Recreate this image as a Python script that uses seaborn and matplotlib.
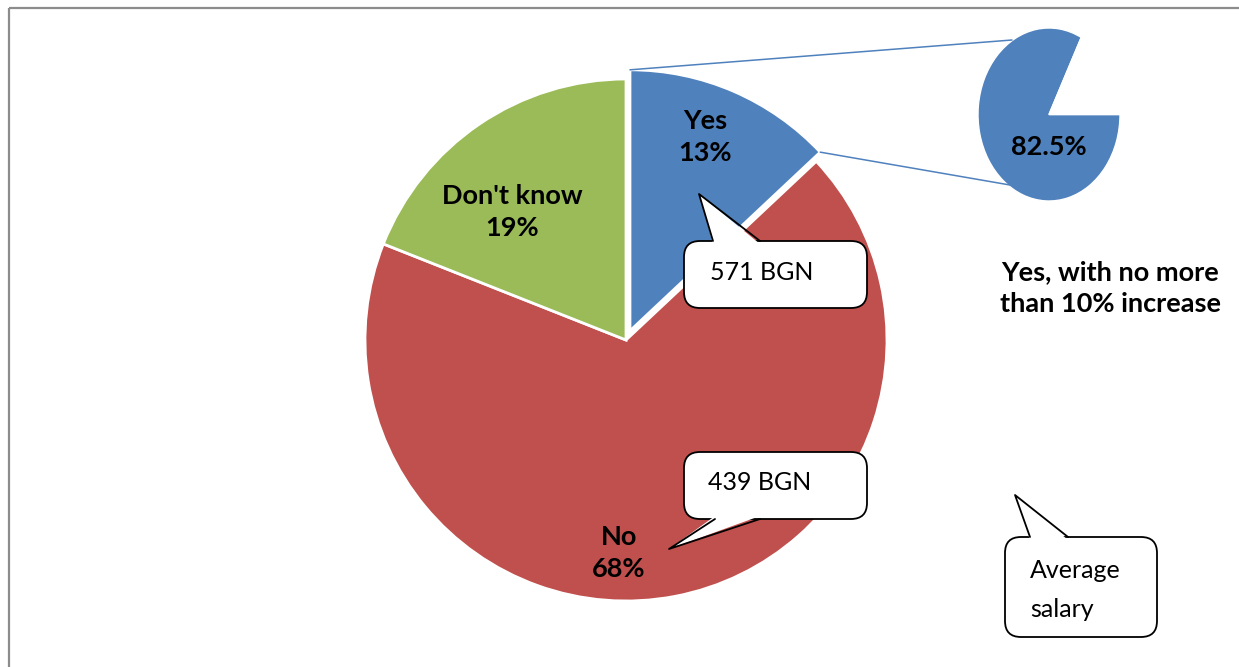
import seaborn as sns
import matplotlib
matplotlib.use("Agg")
import matplotlib.pyplot as plt
from matplotlib.patches import FancyBboxPatch, Polygon, Rectangle
import numpy as np

sns.set_theme(style="white")
plt.rcParams['font.family'] = ['Lato', 'DejaVu Sans']

# data
labels = ["Yes", "No", "Don't know"]
shares = [13, 68, 19]
colors = ["#4F81BD", "#C0504D", "#9BBB59"]
sub_share = 82.5          # "Yes" with no more than 10% increase
sub_label = "Yes, with no more\nthan 10% increase"
salary_yes = "571 BGN"
salary_no = "439 BGN"

W, H = 1239, 667
fig = plt.figure(figsize=(W / 100, H / 100), dpi=100)
ax = fig.add_axes([0, 0, 1, 1])
ax.set_zorder(2)

# main pie (y axis points down, so counterclock=True looks clockwise)
wedges, _ = ax.pie(shares, colors=colors, startangle=-90, counterclock=True,
                   radius=261, center=(626, 340), explode=[10, 0, 0],
                   wedgeprops=dict(edgecolor="white", linewidth=2), frame=True)
ax.set_xlim(0, W)
ax.set_ylim(H, 0)
ax.set_aspect("auto")
ax.axis("off")

# small pie
ax2 = fig.add_axes([978 / W, 1 - 201 / H, 142 / W, 173 / H])
ax2.set_zorder(1)
gap = 100 - sub_share
ax2.pie([sub_share, gap], colors=[colors[0], "none"], startangle=360 * gap / 100,
        counterclock=True, radius=1)
ax2.set_xlim(-1, 1)
ax2.set_ylim(-1, 1)
ax2.set_aspect("auto")
ax2.axis("off")

# connector lines from the Yes wedge to the small pie
w = wedges[0]
cx, cy = w.center
p1 = (cx + w.r * np.cos(np.radians(w.theta1)), cy + w.r * np.sin(np.radians(w.theta1)))
p2 = (cx + w.r * np.cos(np.radians(w.theta2)), cy + w.r * np.sin(np.radians(w.theta2)))
ax.plot([p1[0], 1012], [p1[1], 40], color=colors[0], lw=1.1)
ax.plot([p2[0], 1010], [p2[1], 185], color=colors[0], lw=1.1)

# slice labels
bold = dict(fontsize=19.5, fontweight="bold", ha="center", va="center",
            color="black", linespacing=1.4)
ax.text(705, 137, f"{labels[0]}\n{shares[0]}%", **bold)
ax.text(512, 212, f"{labels[2]}\n{shares[2]}%", **bold)
ax.text(619, 553, f"{labels[1]}\n{shares[1]}%", **bold)
ax.text(1049, 147, f"{sub_share}%", **bold)
ax.text(1110, 288, sub_label, **bold)


def callout(x0, y0, x1, y1, tip, b1, b2, side, text, tx, ty, ha="center"):
    box = FancyBboxPatch((x0, y0), x1 - x0, y1 - y0,
                         boxstyle="round,pad=0,rounding_size=16",
                         fc="white", ec="black", lw=1.3, zorder=5)
    ax.add_patch(box)
    yb = y0 if side == "top" else y1
    d = 3 if side == "top" else -3
    ax.add_patch(Polygon([(b1, yb + d), tip, (b2, yb + d)], closed=True,
                         fc="white", ec="none", zorder=6))
    ax.plot([b1, tip[0], b2], [yb, tip[1], yb], color="black", lw=1.3, zorder=7)
    ax.text(tx, ty, text, fontsize=18, ha=ha, va="center", color="black",
            zorder=8, linespacing=1.85)


callout(684, 241, 867, 308, (699, 194), 713, 760, "top", salary_yes, 762, 273)
callout(684, 452, 867, 519, (669, 549), 715, 760, "bottom", salary_no, 760, 483)
callout(1005, 537, 1157, 637, (1015, 495), 1030, 1068, "top", "Average\nsalary", 1030, 590, ha="left")

# outer frame
ax.add_patch(Rectangle((9, 8), 1400, 800, fill=False, ec="#8c8c8c", lw=1.6))

fig.savefig("out.png", dpi=100)
